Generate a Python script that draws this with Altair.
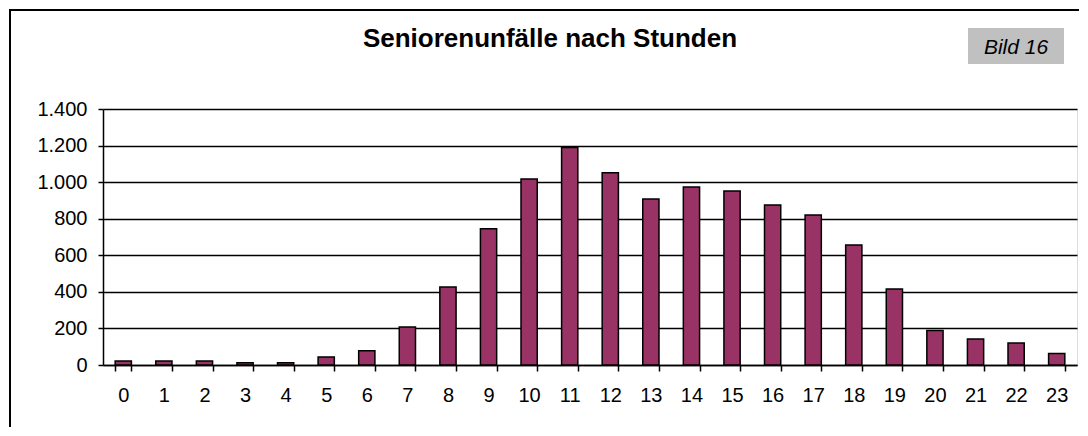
import altair as alt
import pandas as pd

hours = [str(h) for h in range(24)]
accidents = [22, 22, 22, 12, 12, 44, 78, 208, 426, 745, 1017, 1190,
             1051, 908, 973, 951, 875, 820, 656, 416, 188, 142, 120, 63]
y_ticks = [0, 200, 400, 600, 800, 1000, 1200, 1400]
title_text = "Seniorenunfälle nach Stunden"
badge_text = "Bild 16"

df = pd.DataFrame({"hour": hours, "value": accidents})
one = pd.DataFrame({"k": [0]})

FONT = "Liberation Sans"
W, H = 974, 256

bars = alt.Chart(df).mark_bar(color="#993366", stroke="black", strokeWidth=1.5).encode(
    x=alt.X("hour:O", sort=hours,
            scale=alt.Scale(paddingInner=0.6, paddingOuter=0.3),
            axis=alt.Axis(title=None, labelAngle=0, tickBand="extent", tickSize=6,
                          labelPadding=14, labelFontSize=20, labelFont=FONT,
                          labelColor="black", domainColor="black", tickColor="black",
                          domainWidth=1.5, tickWidth=1.5, grid=False)),
    y=alt.Y("value:Q", scale=alt.Scale(domain=[0, 1400]),
            axis=alt.Axis(title=None, values=y_ticks, grid=True, gridColor="black",
                          gridWidth=1.5, tickSize=5, labelPadding=11, labelFontSize=20,
                          labelFont=FONT, labelColor="black", domainColor="black",
                          tickColor="black", domainWidth=1.5, tickWidth=1.5,
                          labelExpr="replace(format(datum.value, ','), ',', '.')")),
)

frame_left = alt.Chart(one).mark_rule(color="black", strokeWidth=2).encode(
    x=alt.value(-93), y=alt.value(-100), y2=alt.value(318))
frame_top = alt.Chart(one).mark_rule(color="black", strokeWidth=2).encode(
    x=alt.value(-94), x2=alt.value(976), y=alt.value(-99))

title = alt.Chart(one).mark_text(text=title_text, font=FONT, fontSize=26, fontWeight="bold",
                                 color="black", baseline="alphabetic", align="center").encode(
    x=alt.value(447), y=alt.value(-62))

badge_box = alt.Chart(one).mark_rect(fill="#C0C0C0").encode(
    x=alt.value(865), x2=alt.value(961), y=alt.value(-81), y2=alt.value(-45))
badge = alt.Chart(one).mark_text(text=badge_text, font=FONT, fontSize=21, fontStyle="italic",
                                 color="black", baseline="alphabetic", align="center").encode(
    x=alt.value(913), y=alt.value(-55))

chart = alt.layer(bars, frame_left, frame_top, title, badge_box, badge).properties(
    width=W, height=H, padding=0
).configure_view(stroke=None).configure(background="white")

chart.save("out.html", embed_options={"renderer": "svg", "actions": False})
